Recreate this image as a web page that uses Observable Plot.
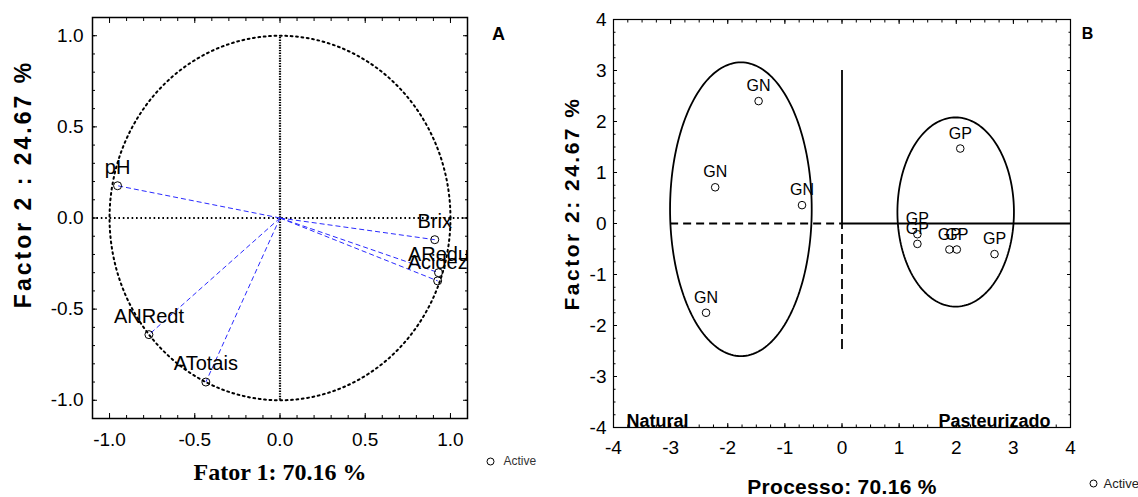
<!DOCTYPE html>
<html><head><meta charset="utf-8">
<script src="https://cdn.jsdelivr.net/npm/d3@7"></script>
<script src="https://cdn.jsdelivr.net/npm/@observablehq/plot@0.6"></script>
<style>
body{margin:0;background:#fff;}
#wrap{position:relative;width:1138px;height:497px;overflow:hidden;}
#a{position:absolute;left:0;top:0;}
#b{position:absolute;left:560px;top:0;}
</style></head><body><div id="wrap"><div id="a"></div><div id="b"></div></div>
<script>
// ---------- Panel A: variable loadings ----------
const varNames = ["pH", "Brix", "ARedu", "Acidez", "ANRedt", "ATotais"];
const varF1 = [-0.953, 0.908, 0.93, 0.925, -0.769, -0.435];
const varF2 = [0.177, -0.119, -0.30, -0.345, -0.64, -0.90];
const ticksA = [-1.0, -0.5, 0.0, 0.5, 1.0];
const minorA = [-1.1,-1.0,-0.9,-0.8,-0.7,-0.6,-0.5,-0.4,-0.3,-0.2,-0.1,0,0.1,0.2,0.3,0.4,0.5,0.6,0.7,0.8,0.9,1.0,1.1];
const circleRadius = [1];

// ---------- Panel B: sample scores ----------
const sampleNames = ["GN", "GN", "GN", "GN", "GP", "GP", "GP", "GP", "GP", "GP"];
const sampleF1 = [-1.46, -2.22, -0.70, -2.38, 2.07, 1.32, 1.32, 1.88, 2.01, 2.67];
const sampleF2 = [2.40, 0.71, 0.36, -1.75, 1.47, -0.21, -0.40, -0.51, -0.51, -0.60];
const groupNames = ["Natural", "Pasteurizado"];
const groupCx = [-1.77, 1.99];
const groupCy = [0.28, 0.225];
const groupRx = [1.24, 1.02];
const groupRy = [2.88, 1.855];
const ticksB = [-4, -3, -2, -1, 0, 1, 2, 3, 4];
const minorB = [-4,-3.75,-3.5,-3.25,-3,-2.75,-2.5,-2.25,-2,-1.75,-1.5,-1.25,-1,-0.75,-0.5,-0.25,0,0.25,0.5,0.75,1,1.25,1.5,1.75,2,2.25,2.5,2.75,3,3.25,3.5,3.75,4];
const hDashFrom = -3.0, vDashTo = -2.47, vSolidTo = 3.0;

const sans = "Liberation Sans, Arial, sans-serif";
const narrow = "Liberation Sans Narrow, Arial Narrow, Liberation Sans, Arial, sans-serif";

function frameTicks(ticks, size) {
  return [
    Plot.axisX({anchor: "bottom", ticks, tickSize: -size, tickFormat: () => "", label: null}),
    Plot.axisX({anchor: "top", ticks, tickSize: -size, tickFormat: () => "", label: null}),
    Plot.axisY({anchor: "left", ticks, tickSize: -size, tickFormat: () => "", label: null}),
    Plot.axisY({anchor: "right", ticks, tickSize: -size, tickFormat: () => "", label: null})
  ];
}

// ---- Panel A ----
const loadings = varNames.map((n, i) => ({name: n, x: varF1[i], y: varF2[i]}));
const circPts = [];
circleRadius.forEach(r => { for (let a = 0; a <= 360; a += 1) { const t = a * Math.PI / 180; circPts.push({x: r * Math.cos(t), y: r * Math.sin(t)}); } });

const plotA = Plot.plot({
  width: 560, height: 497,
  marginLeft: 92, marginRight: 93, marginTop: 17, marginBottom: 79,
  x: {domain: [-1.1, 1.1]},
  y: {domain: [-1.1, 1.1]},
  style: {fontFamily: sans, color: "black", background: "white"},
  marks: [
    Plot.axisX({anchor: "bottom", ticks: ticksA, tickSize: 0, tickPadding: 14, tickFormat: d => d.toFixed(1), fontSize: 19, label: null}),
    Plot.axisY({anchor: "left", ticks: ticksA, tickSize: 0, tickPadding: 9, tickFormat: d => d.toFixed(1), fontSize: 19, label: null}),
    ...frameTicks(minorA, 3),
    ...frameTicks(ticksA, 5),
    Plot.line(circPts, {x: "x", y: "y", stroke: "black", strokeWidth: 2, strokeDasharray: "1.8,3.6"}),
    Plot.ruleY([0], {stroke: "black", strokeWidth: 2, strokeDasharray: "1.6,2.8"}),
    Plot.ruleX([0], {y1: -1, y2: 1, stroke: "black", strokeWidth: 2.2, strokeDasharray: "1.4,1.2"}),
    Plot.link(loadings, {x1: d => 0, y1: d => 0, x2: "x", y2: "y", stroke: "#2a2aff", strokeWidth: 1, strokeDasharray: "5,3"}),
    Plot.dot(loadings, {x: "x", y: "y", r: 4, stroke: "black", strokeWidth: 1}),
    Plot.text(loadings, {x: "x", y: "y", text: "name", dy: -18, fontSize: 20, fill: "black", clip: true}),
    Plot.frame({stroke: "black", strokeWidth: 1.5}),
    Plot.text(["Fator 1: 70.16 %"], {frameAnchor: "bottom", dy: 54, fontSize: 24, fontWeight: "bold", fontFamily: "Liberation Serif, Times New Roman, serif", lineAnchor: "middle"}),
    Plot.text(["Factor 2 : 24.67 %"], {frameAnchor: "left", rotate: -90, dx: -69, dy: -34, fontSize: 23, fontWeight: "bold", textAnchor: "middle", lineAnchor: "middle"}),
    Plot.text(["A"], {frameAnchor: "top-right", dx: 31, dy: 17, fontSize: 18, fontWeight: "bold", textAnchor: "middle", lineAnchor: "middle"}),
    Plot.dot(["Active"], {frameAnchor: "bottom-right", dx: 23, dy: 43, r: 3.5, stroke: "black", strokeWidth: 1}),
    Plot.text(["Active"], {frameAnchor: "bottom-right", dx: 36, dy: 43, fontSize: 12, textAnchor: "start", lineAnchor: "middle", fill: "#333"})
  ]
});
document.getElementById("a").appendChild(plotA);

// ---- Panel B ----
const scores = sampleNames.map((n, i) => ({name: n, x: sampleF1[i], y: sampleF2[i]}));
const ellPts = [];
groupNames.forEach((g, k) => { for (let a = 0; a <= 360; a += 2) { const t = a * Math.PI / 180; ellPts.push({g, x: groupCx[k] + groupRx[k] * Math.cos(t), y: groupCy[k] + groupRy[k] * Math.sin(t)}); } });

const plotB = Plot.plot({
  width: 578, height: 497,
  marginLeft: 53, marginRight: 68, marginTop: 19, marginBottom: 70,
  x: {domain: [-4, 4]},
  y: {domain: [-4, 4]},
  style: {fontFamily: narrow, color: "black", background: "white"},
  marks: [
    Plot.axisX({anchor: "bottom", ticks: ticksB, tickSize: 0, tickPadding: 13, tickFormat: d => String(d), fontSize: 19, label: null}),
    Plot.axisY({anchor: "left", ticks: ticksB, tickSize: 0, tickPadding: 7, tickFormat: d => String(d), fontSize: 19, label: null}),
    ...frameTicks(minorB, 2.5),
    ...frameTicks(ticksB, 4),
    Plot.ruleY([0], {x1: hDashFrom, x2: 0, stroke: "black", strokeWidth: 1.8, strokeDasharray: "8,5"}),
    Plot.ruleY([0], {x1: 0, x2: 4, stroke: "black", strokeWidth: 1.8}),
    Plot.ruleX([0], {y1: 0, y2: vSolidTo, stroke: "black", strokeWidth: 1.8}),
    Plot.ruleX([0], {y1: vDashTo, y2: 0, stroke: "black", strokeWidth: 1.8, strokeDasharray: "10,5"}),
    Plot.line(ellPts, {x: "x", y: "y", z: "g", stroke: "black", strokeWidth: 1.8}),
    Plot.dot(scores, {x: "x", y: "y", r: 3.8, stroke: "black", strokeWidth: 1}),
    Plot.text(scores, {x: "x", y: "y", text: "name", dy: -15, fontSize: 16, fill: "black"}),
    Plot.frame({stroke: "black", strokeWidth: 1.2}),
    Plot.text(["Natural"], {frameAnchor: "bottom-left", dx: 13, dy: -1, fontSize: 18, fontWeight: "bold", textAnchor: "start", lineAnchor: "bottom"}),
    Plot.text(["Pasteurizado"], {frameAnchor: "bottom-right", dx: -20, dy: -1, fontSize: 18, fontWeight: "bold", textAnchor: "end", lineAnchor: "bottom"}),
    Plot.text(["Processo: 70.16 %"], {frameAnchor: "bottom", dy: 60, fontSize: 21, fontWeight: "bold", lineAnchor: "middle"}),
    Plot.text(["Factor 2: 24.67 %"], {frameAnchor: "left", rotate: -90, dx: -41, dy: -20, fontSize: 21, fontWeight: "bold", fontFamily: sans, textAnchor: "middle", lineAnchor: "middle"}),
    Plot.text(["B"], {frameAnchor: "top-right", dx: 17, dy: 14, fontSize: 16, fontWeight: "bold", fontFamily: sans, textAnchor: "middle", lineAnchor: "middle"}),
    Plot.dot(["Active"], {frameAnchor: "bottom-right", dx: 23, dy: 56, r: 3.5, stroke: "black", strokeWidth: 1}),
    Plot.text(["Active"], {frameAnchor: "bottom-right", dx: 33, dy: 56, fontSize: 13, textAnchor: "start", lineAnchor: "middle", fill: "#222"})
  ]
});
document.getElementById("b").appendChild(plotB);

// letter spacing for axis titles
const spacing = {"Factor 2 : 24.67 %": "3px", "Factor 2: 24.67 %": "2.5px", "Processo: 70.16 %": "0.3px"};
document.querySelectorAll("svg text").forEach(t => {
  const s = spacing[t.textContent];
  if (s) t.setAttribute("letter-spacing", s);
});
</script></body></html>
